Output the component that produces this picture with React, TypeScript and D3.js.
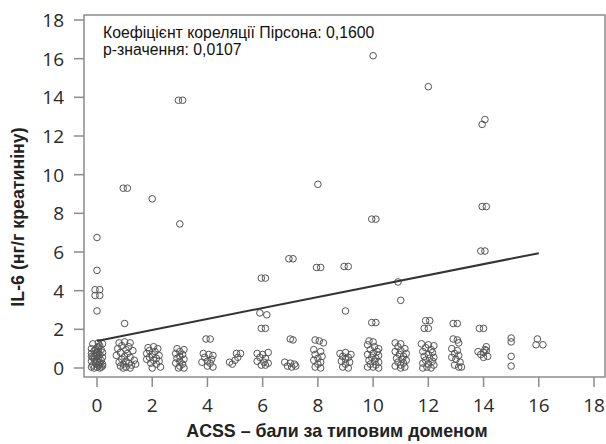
import React from "react";
import * as d3 from "d3";

// ACSS score (with the small horizontal jitter seen in the picture) and IL-6 value per point
const acss = [
  // score 0
  0, 0, -0.07, 0.1, -0.07, 0.1, 0,
  -0.15, 0.05, 0.2, 0.1, -0.2, 0, 0.15, -0.1, 0.05, 0.2, -0.2, -0.05, 0.1, 0, -0.15, 0.2, 0.05, -0.1,
  0.15, -0.2, 0, 0.1, -0.05, 0.2, -0.15, 0.05, -0.2, 0, 0.15, -0.1, 0.1, 0.05, -0.05, 0.1, -0.1, 0, 0.2, -0.2,
  // score 1
  0.95, 1.1, 1,
  0.8, 1, 1.2, 0.9, 1.15, 0.75, 1.05, 1.3, 0.85, 1.1, 0.7, 1, 1.2, 0.9, 1.35, 1.05, 0.8, 1.15, 0.95, 1.25,
  0.85, 1.05, 1.2, 0.95, 1.4,
  // score 2
  2,
  1.85, 2.05, 2.2, 1.9, 2.1, 1.8, 2, 2.25, 1.9, 2.15, 1.8, 2.05, 2.25, 1.95, 2.15, 2.3, 2,
  // score 3
  2.95, 3.1, 3,
  2.9, 3.15, 3, 2.85, 3.1, 3, 2.9, 3.15, 3, 2.85, 3.1, 3, 2.95, 3.15,
  // score 4
  3.95, 4.1,
  3.85, 4.05, 4.2, 3.9, 4.15, 4, 3.8, 4.1, 4, 4.2,
  // score 5
  4.8, 5, 5.1, 5.2, 5.05, 4.9,
  // score 6
  5.95, 6.1, 5.9, 6.15, 5.95, 6.1,
  5.8, 6, 6.2, 5.9, 6.1, 5.8, 6.05, 6.2, 5.95, 6.1,
  // score 7
  6.95, 7.1, 7, 7.1,
  6.8, 7, 7.15, 6.9, 7.05, 7.2,
  // score 8
  8, 7.95, 8.1, 7.9, 8.05, 8.2,
  7.85, 8.1, 7.9, 8.15, 8, 7.85, 8.1, 8, 7.9, 8.1,
  // score 9
  8.95, 9.1, 9,
  8.8, 9, 9.2, 8.9, 9.1, 9, 8.85, 9.15, 9, 8.9, 9.1,
  // score 10
  10, 9.95, 10.1, 9.95, 10.1, 9.85, 10,
  9.8, 10.05, 10.2, 9.9, 10.15, 10, 9.8, 10.2, 9.95, 10.1, 9.85, 10.05, 10.2, 9.9, 10.1, 10, 9.8, 10.2,
  // score 11
  10.9, 11,
  10.8, 11, 10.9, 11.15, 11, 10.8, 11.2, 10.95, 11.1, 10.85, 11.05, 11.2, 10.9, 11.1, 11, 10.8, 11.15, 11,
  // score 12
  12, 11.9, 12.05, 11.85, 12,
  11.75, 12, 12.2, 11.9, 12.1, 11.8, 12.15, 12, 11.85, 12.2, 12.05, 11.9, 12.15, 11.8, 12, 12.2, 11.95, 12.1, 11.8,
  // score 13
  12.9, 13.05, 12.9, 13.05, 13.1,
  12.85, 13.05, 12.95, 13.1, 12.85, 13, 13.15, 12.95, 13.1, 13.2,
  // score 14
  14.05, 13.95, 13.95, 14.1, 13.9, 14.05, 13.85, 14,
  14.1, 14.05, 13.8, 14, 13.9, 14.15, 14, 14.1,
  // score 15
  15, 15, 15, 15,
  // score 16
  15.95, 15.9, 16.15,
];

const il6 = [
  // score 0
  6.75, 5.05, 4.05, 4.05, 3.75, 3.75, 2.95,
  1.25, 1.3, 1.25, 1.15, 1.0, 1.05, 0.95, 0.9, 0.85, 0.8, 0.75, 0.7, 0.7, 0.6, 0.55, 0.55, 0.5, 0.45,
  0.4, 0.35, 0.35, 0.3, 0.25, 0.2, 0.15, 0.15, 0.05, 0.05, 0.05, 0.0, 0.0, 1.1, 0.95, 0.2, 0.6, 0.8, 0.1, 0.6,
  // score 1
  9.3, 9.3, 2.3,
  1.3, 1.35, 1.3, 1.15, 1.1, 1.0, 0.95, 0.9, 0.8, 0.75, 0.65, 0.6, 0.55, 0.45, 0.4, 0.35, 0.3, 0.25, 0.2,
  0.15, 0.1, 0.05, 0.0, 0.0, 0.2,
  // score 2
  8.75,
  1.05, 1.1, 1.0, 0.9, 0.85, 0.75, 0.7, 0.65, 0.55, 0.5, 0.45, 0.4, 0.35, 0.25, 0.2, 0.05, 0.0,
  // score 3
  13.85, 13.85, 7.45,
  1.0, 0.95, 0.85, 0.75, 0.7, 0.6, 0.5, 0.45, 0.35, 0.25, 0.2, 0.1, 0.0, 0.0,
  // score 4
  1.5, 1.5,
  0.75, 0.7, 0.65, 0.55, 0.45, 0.35, 0.3, 0.25, 0.1, 0.05,
  // score 5
  0.3, 0.4, 0.55, 0.75, 0.75, 0.2,
  // score 6
  4.65, 4.65, 2.85, 2.75, 2.05, 2.05,
  0.75, 0.7, 0.8, 0.55, 0.5, 0.35, 0.3, 0.25, 0.15, 0.15,
  // score 7
  5.65, 5.65, 1.5, 1.45,
  0.3, 0.25, 0.2, 0.1, 0.05, 0.1,
  // score 8
  9.5, 5.2, 5.2, 1.45, 1.4, 1.3,
  0.95, 0.85, 0.7, 0.6, 0.5, 0.4, 0.3, 0.2, 0.05, 0.0,
  // score 9
  5.25, 5.25, 2.95,
  0.75, 0.8, 0.7, 0.6, 0.55, 0.45, 0.35, 0.3, 0.2, 0.05, 0.0,
  // score 10
  16.15, 7.7, 7.7, 2.35, 2.35, 1.4, 1.35,
  1.2, 1.1, 1.0, 0.95, 0.85, 0.75, 0.7, 0.65, 0.55, 0.5, 0.4, 0.35, 0.3, 0.2, 0.15, 0.05, 0.05, 0.0,
  // score 11
  4.45, 3.5,
  1.3, 1.25, 1.1, 1.0, 0.9, 0.85, 0.75, 0.7, 0.6, 0.5, 0.45, 0.4, 0.3, 0.25, 0.15, 0.1, 0.05, 0.0,
  // score 12
  14.55, 2.45, 2.45, 2.05, 2.05,
  1.25, 1.2, 1.15, 1.05, 0.95, 0.85, 0.8, 0.7, 0.6, 0.55, 0.5, 0.4, 0.35, 0.25, 0.2, 0.15, 0.05, 0.0, 0.0,
  // score 13
  2.3, 2.3, 1.5, 1.45, 1.3,
  1.0, 0.9, 0.75, 0.65, 0.55, 0.45, 0.3, 0.15, 0.05, 0.05,
  // score 14
  12.85, 12.6, 8.35, 8.35, 6.05, 6.05, 2.05, 2.05,
  1.1, 0.95, 0.85, 0.8, 0.7, 0.6, 0.55, 0.9,
  // score 15
  1.55, 1.35, 0.6, 0.1,
  // score 16
  1.5, 1.2, 1.2,
];

// fitted regression line, ends of the drawn segment
const fitX = [0, 16];
const fitY = [1.4, 5.94];

const xTicks = [0, 2, 4, 6, 8, 10, 12, 14, 16, 18];
const yTicks = [0, 2, 4, 6, 8, 10, 12, 14, 16, 18];

const statLines = ["Коефіцієнт кореляції Пірсона: 0,1600", "p-значення: 0,0107"];

const W = 606;
const H = 444;
const frame = { left: 84, right: 605, top: 15, bottom: 377 };

export default function App() {
  const x = d3.scaleLinear().domain([0, 18]).range([97, 594]);
  const y = d3.scaleLinear().domain([0, 18]).range([368, 20]);

  const fit = d3
    .line<number>()
    .x((d) => x(d))
    .y((_, i) => y(fitY[i]));

  const tickColor = "#8c8c8c";
  const labelFont = "'Open Sans', 'DejaVu Sans', sans-serif";
  const titleFont = "'Liberation Sans', Arial, sans-serif";

  return (
    <svg
      width={W}
      height={H}
      style={{ position: "absolute", left: 0, top: 0, display: "block", background: "#fff" }}
    >
      {/* frame */}
      <rect
        x={frame.left}
        y={frame.top}
        width={frame.right - frame.left}
        height={frame.bottom - frame.top}
        fill="none"
        stroke={tickColor}
        strokeWidth={1.5}
      />

      {/* y axis */}
      {yTicks.map((t) => (
        <g key={"y" + t}>
          <line x1={frame.left - 10} x2={frame.left} y1={y(t)} y2={y(t)} stroke={tickColor} strokeWidth={1.5} />
          <text
            x={frame.left - 20}
            y={y(t)}
            dy="0.36em"
            textAnchor="end"
            fontFamily={labelFont}
            fontSize={19}
            fill="#2a2a2a"
          >
            {t}
          </text>
        </g>
      ))}

      {/* x axis */}
      {xTicks.map((t) => (
        <g key={"x" + t}>
          <line x1={x(t)} x2={x(t)} y1={frame.bottom} y2={frame.bottom + 10} stroke={tickColor} strokeWidth={1.5} />
          <text x={x(t)} y={412} textAnchor="middle" fontFamily={labelFont} fontSize={19} fill="#2a2a2a">
            {t}
          </text>
        </g>
      ))}

      {/* points */}
      <g fill="none" stroke="#555" strokeWidth={1}>
        {il6.map((v, i) => (
          <circle key={i} cx={x(acss[i])} cy={y(v)} r={3.3} />
        ))}
      </g>

      {/* regression line */}
      <path d={fit(fitX) || ""} fill="none" stroke="#333" strokeWidth={2} />

      {/* statistics */}
      {statLines.map((s, i) => (
        <text key={s} x={103} y={38 + i * 17} fontFamily={titleFont} fontSize={15.8} fill="#111">
          {s}
        </text>
      ))}

      {/* axis titles */}
      <text
        x={337}
        y={437}
        textAnchor="middle"
        fontFamily={titleFont}
        fontWeight="bold"
        fontSize={17.8}
        fill="#222"
      >
        ACSS – бали за типовим доменом
      </text>
      <text
        transform={`translate(24, ${217}) rotate(-90)`}
        textAnchor="middle"
        fontFamily={titleFont}
        fontWeight="bold"
        fontSize={17.8}
        fill="#222"
      >
        IL-6 (нг/г креатиніну)
      </text>
    </svg>
  );
}
